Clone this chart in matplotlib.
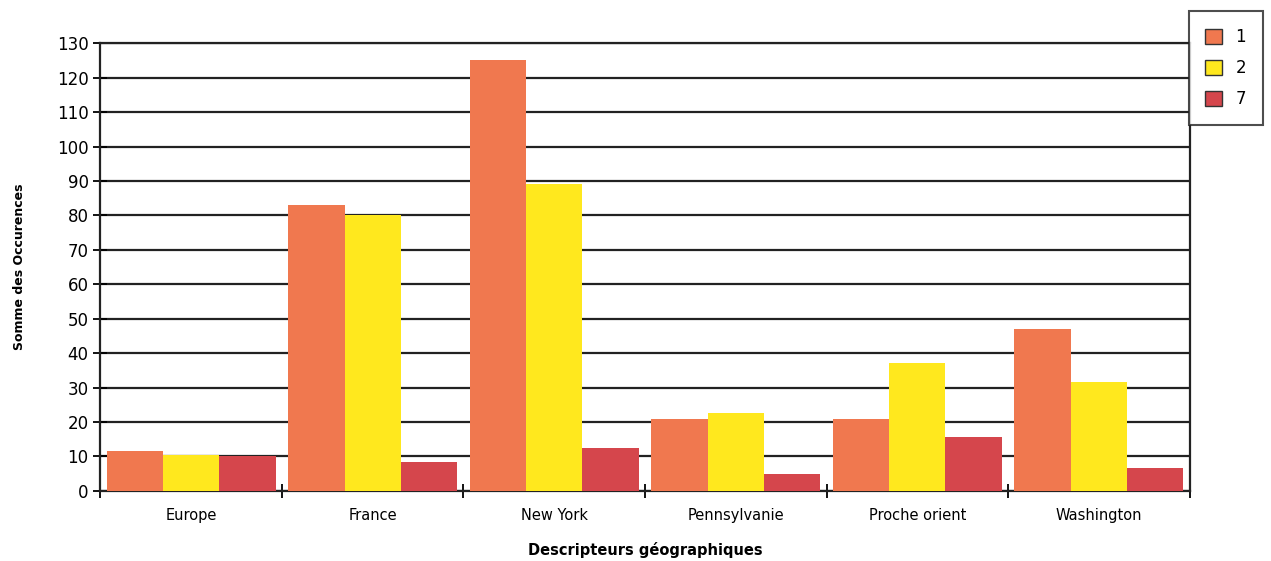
import numpy as np
import matplotlib.pyplot as plt

categories = ["Europe", "France", "New York", "Pennsylvanie", "Proche orient", "Washington"]
series_names = ["1", "2", "7"]
serie_1 = [11.5, 83, 125, 21, 21, 47]
serie_2 = [10.5, 80, 89, 22.5, 37, 31.5]
serie_7 = [10, 8.5, 12.5, 5, 15.5, 6.5]
colors = ["#F0784F", "#FFE81E", "#D5464C"]

fig = plt.figure(figsize=(12.71, 5.61), dpi=100)
ax = fig.add_axes([0.079, 0.125, 0.857, 0.798])

x = np.arange(len(categories)) + 0.5
w = 0.31
for i, vals in enumerate([serie_1, serie_2, serie_7]):
    ax.bar(x + (i - 1) * w, vals, width=w, color=colors[i], label=series_names[i], zorder=3)

ax.set_xlim(0, len(categories))
ax.set_ylim(0, 130)
ax.set_yticks(np.arange(0, 131, 10))
ax.yaxis.grid(True, color="#222222", linewidth=1.6, zorder=1)

# "+" style ticks on category boundaries, labels in the middle
ax.set_xticks(np.arange(len(categories) + 1))
ax.set_xticklabels([])
ax.set_xticks(x, minor=True)
ax.set_xticklabels(categories, minor=True, fontsize=10.5)
ax.tick_params(axis="x", which="minor", length=0, pad=12)
ax.tick_params(axis="both", which="major", direction="inout", length=10, width=1.3)
ax.tick_params(axis="y", labelsize=12)

for s in ax.spines.values():
    s.set_linewidth(1.6)
    s.set_color("#222222")

ax.set_xlabel("Descripteurs géographiques", fontsize=10.5, fontweight="bold", labelpad=14)
ax.set_ylabel("Somme des Occurences", fontsize=9, fontweight="bold", labelpad=22)

leg = fig.legend(loc="upper right", bbox_to_anchor=(1.0, 0.995), fontsize=12,
                 handlelength=1.0, handleheight=1.0, fancybox=False,
                 edgecolor="#222222", borderpad=1.0, labelspacing=0.8)
leg.get_frame().set_linewidth(1.5)
for h in leg.legend_handles:
    h.set_edgecolor("#333333")
    h.set_linewidth(1.0)

fig.savefig("out.png", dpi=100)
